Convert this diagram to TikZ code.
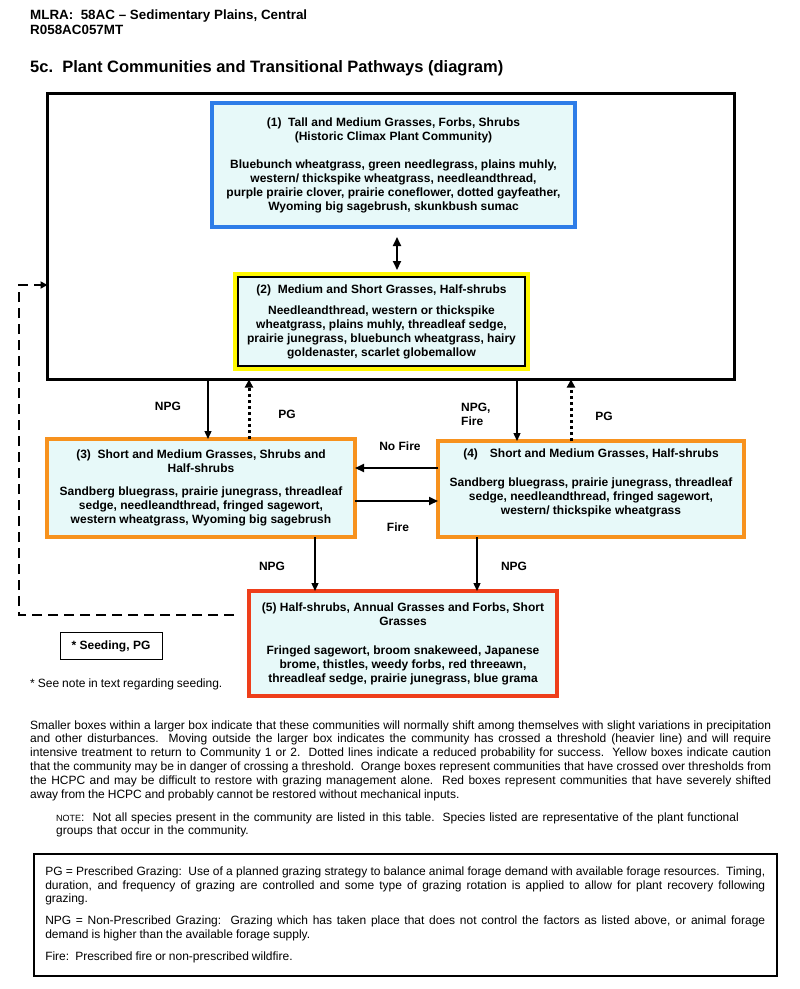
\documentclass[tikz,border=0pt]{standalone}
\usepackage{fontspec}
\setmainfont{Liberation Sans}
\usepackage{xcolor}
\usetikzlibrary{arrows.meta}
\setlength{\parindent}{0pt}
\definecolor{commfill}{RGB}{231,249,249}
\definecolor{hcpcblue}{RGB}{46,125,232}
\definecolor{cautionyellow}{RGB}{255,248,0}
\definecolor{crossorange}{RGB}{247,146,30}
\definecolor{shiftred}{RGB}{238,62,26}
\newcommand{\plaintext}{\fontsize{12}{13.9}\selectfont\spaceskip=3pt plus 4pt minus 0.7pt\relax}

\tikzset{
  comm/.style={fill=commfill, align=center, inner sep=0pt, outer sep=0pt,
    line width=4pt, font=\fontsize{12}{14}\selectfont\bfseries},
  hcpc/.style={comm, draw=hcpcblue},
  caution/.style={comm, draw=black, line width=2pt,
    preaction={draw=cautionyellow, line width=10pt}},
  crossed/.style={comm, draw=crossorange},
  shifted/.style={comm, draw=shiftred},
  lbl/.style={font=\fontsize{12}{14}\selectfont\bfseries, inner sep=0pt},
  npg/.style={line width=1.3pt, -{Triangle[length=8pt,width=7pt]}},
  pg/.style={line width=3pt, dash pattern=on 3pt off 3pt, -{Triangle[length=8pt,width=8pt]}},
  fire/.style={line width=2pt, -{Triangle[length=9pt,width=8pt]}},
  twoway/.style={line width=2pt, {Triangle[length=9pt,width=8pt]}-{Triangle[length=9pt,width=8pt]}},
  seed/.style={line width=2pt, dash pattern=on 10pt off 6pt, -{Triangle[length=7pt,width=7pt]}},
  plain/.style={font=\plaintext, inner sep=0pt}
}

\begin{document}
\begin{tikzpicture}[x=1pt,y=-1pt]
  \useasboundingbox (0,0) rectangle (800,989);
  % heading
  \node[anchor=base west, inner sep=0pt, font=\fontsize{13.4}{15}\selectfont\bfseries] at(30,19)(mlra){MLRA:\ \ 58AC – Sedimentary Plains, Central};
  \node[anchor=base west, inner sep=0pt, font=\fontsize{13.4}{15}\selectfont\bfseries] at(30,34)(site){R058AC057MT};
  \node[anchor=base west, inner sep=0pt, font=\fontsize{16.5}{18}\selectfont\bfseries] at(30,72)(title){5c.\ \ Plant Communities and Transitional Pathways (diagram)};
  % larger box
  \node[draw, line width=3pt, outer sep=0pt, minimum width=687pt, minimum height=286pt] at(391,236.5)(region){};
  % community boxes
  \node[hcpc, minimum width=363pt, minimum height=124pt] at(393.5,165)(c1){(1)\ \ Tall and Medium Grasses, Forbs, Shrubs\\(Historic Climax Plant Community)\\[14pt]Bluebunch wheatgrass, green needlegrass, plains muhly,\\western/ thickspike wheatgrass, needleandthread,\\purple prairie clover, prairie coneflower, dotted gayfeather,\\Wyoming big sagebrush, skunkbush sumac};
  \node[caution, minimum width=287pt, minimum height=89pt] at(381.5,321.5)(c2){(2)\ \ Medium and Short Grasses, Half-shrubs\\[7pt]Needleandthread, western or thickspike\\wheatgrass, plains muhly, threadleaf sedge,\\prairie junegrass, bluebunch wheatgrass, hairy\\goldenaster, scarlet globemallow};
  \node[crossed, minimum width=308pt, minimum height=98pt] at(201,488)(c3){(3)\ \ Short and Medium Grasses, Shrubs and\\Half-shrubs\\[9pt]Sandberg bluegrass, prairie junegrass, threadleaf\\sedge, needleandthread, fringed sagewort,\\western wheatgrass, Wyoming big sagebrush};
  \node[crossed, minimum width=306pt, minimum height=96pt] at(591,489)(c4){(4)\hspace{12pt}Short and Medium Grasses, Half-shrubs\\[15pt]Sandberg bluegrass, prairie junegrass, threadleaf\\sedge, needleandthread, fringed sagewort,\\western/ thickspike wheatgrass\\\mbox{}};
  \node[shifted, minimum width=308pt, minimum height=105pt] at(403,643.5)(c5){(5) Half-shrubs, Annual Grasses and Forbs, Short\\Grasses\\[15pt]Fringed sagewort, broom snakeweed, Japanese\\brome, thistles, weedy forbs, red threeawn,\\threadleaf sedge, prairie junegrass, blue grama};
  % pathways
  \draw[twoway, shorten <=10pt, shorten >=7pt] (c1.south -| 397,0) -- (c2.north -| 397,0);
  \draw[npg] (region.south -| 208,0) -- (c3.north -| 208,0);
  \draw[pg] (c3.north -| 249,0) -- (region.south -| 249,0);
  \draw[npg] (region.south -| 517,0) -- (c4.north -| 517,0);
  \draw[pg] (c4.north -| 571,0) -- (region.south -| 571,0);
  \draw[fire] (c4.west |- 0,468) -- (c3.east |- 0,468);
  \draw[fire] (c3.east |- 0,501) -- (c4.west |- 0,501);
  \draw[npg] (c3.south -| 315,0) -- (c5.north -| 315,0);
  \draw[npg] (c4.south -| 477,0) -- (c5.north -| 477,0);
  \coordinate (seedstart) at (234,615);
  \draw[seed] (seedstart) -- (19,615) |- (region.west |- 0,285);
  % pathway labels
  \node[lbl] at(168,406)(l1){NPG};
  \node[lbl] at(287,414)(l2){PG};
  \node[lbl, anchor=west, align=left] at(461,414)(l3){NPG,\\Fire};
  \node[lbl] at(604,416)(l4){PG};
  \node[lbl] at(400,446)(l5){No Fire};
  \node[lbl] at(398,527)(l6){Fire};
  \node[lbl] at(272,566)(l7){NPG};
  \node[lbl] at(514,566)(l8){NPG};
  % seeding
  \node[draw, line width=1pt, lbl, minimum width=102pt, minimum height=27pt] at(111,646)(seeding){* Seeding, PG};
  \node[plain, anchor=west] at(30,684)(seednote){* See note in text regarding seeding.};
  % notes
  \node[plain, anchor=base west, text width=741pt, align=justify] at(30,729)(expl){Smaller boxes within a larger box indicate that these communities will normally shift among themselves with slight variations in precipitation\linebreak and other disturbances.\ \ Moving outside the larger box indicates the community has crossed a threshold (heavier line) and will require\linebreak intensive treatment to return to Community 1 or 2.\ \ Dotted lines indicate a reduced probability for success.\ \ Yellow boxes indicate caution\linebreak that the community may be in danger of crossing a threshold.\ \ Orange boxes represent communities that have crossed over thresholds from\linebreak the HCPC and may be difficult to restore with grazing management alone.\ \ Red boxes represent communities that have severely shifted\linebreak away from the HCPC and probably cannot be restored without mechanical inputs.};
  \node[plain, anchor=base west, text width=700pt, align=left] at(56,821)(note){{\fontsize{9}{10}\selectfont NOTE}:\ \ Not all species present in the community are listed in this table.\ \ Species listed are representative of the plant functional\\groups that occur in the community.};
  \node[plain, draw, line width=1.5pt, anchor=north west, minimum width=743pt, minimum height=122pt, text width=720pt, align=justify] at(33,853)(legend){PG = Prescribed Grazing:\ \ Use of a planned grazing strategy to balance animal forage demand with available forage resources.\ \ Timing,\linebreak duration, and frequency of grazing are controlled and some type of grazing rotation is applied to allow for plant recovery following\linebreak grazing.\par\vspace{8pt}NPG = Non-Prescribed Grazing:\ \ Grazing which has taken place that does not control the factors as listed above, or animal forage\linebreak demand is higher than the available forage supply.\par\vspace{8pt}Fire:\ \ Prescribed fire or non-prescribed wildfire.};
\end{tikzpicture}
\end{document}
